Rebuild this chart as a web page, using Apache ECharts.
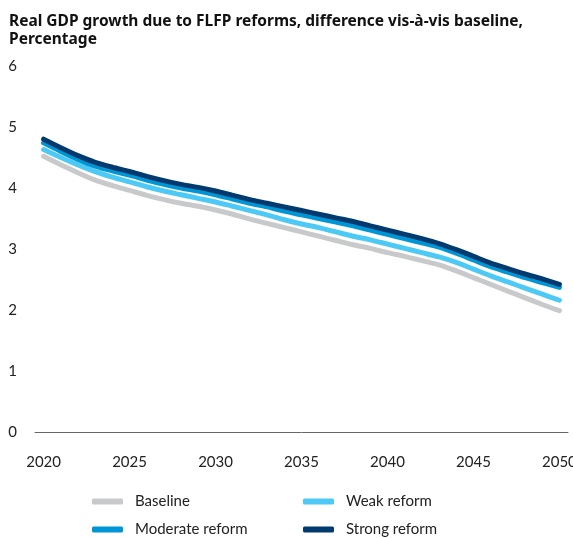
<!DOCTYPE html>
<html>
<head>
<meta charset="utf-8">
<script src="https://cdn.jsdelivr.net/npm/echarts@6/dist/echarts.min.js"></script>
<style>
html,body{margin:0;padding:0;background:#fff;}
#chart{width:573px;height:538px;}
</style>
</head>
<body>
<div id="chart"></div>
<script>
var years = [];
for (var y = 2020; y <= 2050; y++) years.push(String(y));

var baseline = [4.52,4.38,4.25,4.13,4.04,3.96,3.88,3.81,3.75,3.70,3.64,3.57,3.49,3.42,3.35,3.28,3.21,3.14,3.07,3.01,2.94,2.88,2.81,2.74,2.64,2.53,2.42,2.31,2.20,2.09,1.99];
var weakReform = [4.63,4.50,4.38,4.27,4.18,4.10,4.02,3.95,3.89,3.83,3.77,3.70,3.63,3.56,3.48,3.41,3.35,3.28,3.21,3.15,3.08,3.01,2.94,2.87,2.78,2.67,2.56,2.46,2.36,2.26,2.16];
var moderateReform = [4.74,4.60,4.47,4.36,4.28,4.21,4.13,4.06,4.00,3.95,3.89,3.82,3.75,3.69,3.62,3.56,3.50,3.44,3.38,3.31,3.24,3.17,3.10,3.03,2.93,2.82,2.71,2.62,2.53,2.45,2.37];
var strongReform = [4.80,4.66,4.53,4.42,4.34,4.27,4.19,4.12,4.06,4.01,3.95,3.88,3.81,3.75,3.69,3.63,3.57,3.51,3.45,3.38,3.31,3.24,3.17,3.09,2.99,2.88,2.77,2.68,2.59,2.51,2.42];

var names = ['Baseline','Weak reform','Moderate reform','Strong reform'];
var colors = ['#c8c9cb','#4cc9f5','#0096d6','#003a6f'];
var values = [baseline, weakReform, moderateReform, strongReform];

var font = 'Lato, "Noto Sans", sans-serif';
var legendPos = [[87,489],[298,489],[87,517],[298,517]];

var chart = echarts.init(document.getElementById('chart'), null, {renderer:'canvas'});
chart.setOption({
  animation: false,
  title: {
    text: 'Real GDP growth due to FLFP reforms, difference vis-à-vis baseline,\nPercentage',
    left: 4, top: 8,
    textStyle: {fontFamily: '"Noto Sans", sans-serif', fontSize: 15.5, fontWeight: 'bold', color: '#111', lineHeight: 18}
  },
  legend: names.map(function(n, i){
    return {
      data: [n], left: legendPos[i][0], top: legendPos[i][1],
      icon: 'roundRect', itemWidth: 31, itemHeight: 6,
      textStyle: {fontFamily: font, fontSize: 15, color: '#222', padding: [0,0,0,7]}
    };
  }),
  grid: {left: 35, right: 5, top: 66, bottom: 106, containLabel: false, outerBoundsMode: 'none'},
  xAxis: {
    type: 'category', data: years, boundaryGap: true,
    axisLine: {lineStyle: {color: '#666', width: 1}},
    axisTick: {show: false},
    axisLabel: {interval: 4, margin: 23, fontFamily: font, fontSize: 15, color: '#222'}
  },
  yAxis: {
    type: 'value', min: 0, max: 6, interval: 1,
    axisLine: {show: false}, axisTick: {show: false}, splitLine: {show: false},
    axisLabel: {margin: 18, fontFamily: font, fontSize: 15, color: '#222'}
  },
  series: names.map(function(n, i){
    return {
      name: n, type: 'line', data: values[i], smooth: 0.3, symbol: 'none',
      color: colors[i],
      lineStyle: {width: 5, color: colors[i], cap: 'round'}
    };
  })
});
</script>
</body>
</html>
